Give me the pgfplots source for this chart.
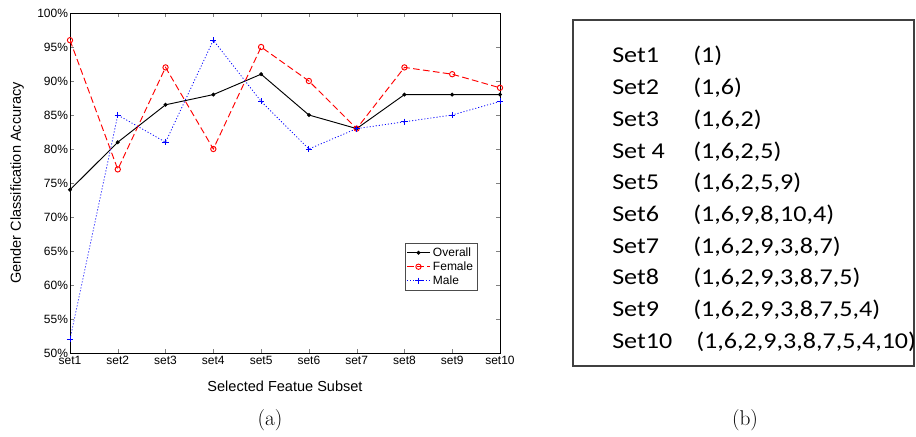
\documentclass[border=0pt]{standalone}
\usepackage{pgfplots}
\pgfplotsset{compat=1.18}
\usepackage{fontspec}
\newfontfamily\arial{Liberation Sans}
\newfontfamily\calib{Carlito}
\newcommand{\rt}[1]{\scalebox{1.15}[1]{\calib\fontsize{17}{19}\selectfont #1}}
\begin{document}
\begin{tikzpicture}
\path[use as bounding box] (0,0) rectangle (687pt,327pt);
\begin{axis}[
  at={(52.5pt,62.25pt)}, anchor=south west,
  scale only axis, width=322.5pt, height=255pt,
  xmin=1, xmax=10, ymin=50, ymax=100,
  xtick={1,...,10},
  xticklabels={set1,set2,set3,set4,set5,set6,set7,set8,set9,set10},
  ytick={50,55,...,100},
  yticklabel={\pgfmathprintnumber{\tick}\%},
  /pgf/number format/assume math mode=true,
  tick align=inside, major tick length=3pt,
  ticklabel style={font=\arial\fontsize{9}{10}\selectfont},
  yticklabel style={xshift=2pt},
  xticklabel style={yshift=1pt},
  axis line style={line width=0.6pt},
  label style={font=\arial\fontsize{10.9}{12}\selectfont},
  xlabel={Selected Featue Subset},
  ylabel={Gender Classification Accuracy},
  xlabel style={at={(axis description cs:0.5,-0.097)}, anchor=center},
  ylabel style={at={(axis description cs:-0.123,0.5)}, anchor=center},
  legend style={at={(axis description cs:0.779,0.3235)}, anchor=north west,
    font=\arial\fontsize{9}{10}\selectfont, inner sep=1pt, row sep=-1.5pt,
    draw=black!70, line width=0.5pt},
  legend cell align=left,
]
\addplot[black, line width=0.7pt, mark=*, mark size=1.1pt] coordinates {
 (1,74) (2,81) (3,86.5) (4,88) (5,91) (6,85) (7,83) (8,88) (9,88) (10,88)};
\addlegendentry{Overall}
\addplot[red, line width=0.7pt, dash pattern=on 5pt off 2.5pt, mark=o, mark size=2pt, mark options={solid}] coordinates {
 (1,96) (2,77) (3,92) (4,80) (5,95) (6,90) (7,83) (8,92) (9,91) (10,89)};
\addlegendentry{Female}
\addplot[blue, line width=0.6pt, dash pattern=on 0.8pt off 1.5pt, mark=+, mark size=2.3pt, mark options={solid}] coordinates {
 (1,52) (2,85) (3,81) (4,96) (5,87) (6,80) (7,83) (8,84) (9,85) (10,87)};
\addlegendentry{Male}
\end{axis}
\begin{scope}[x=0.75pt, y=-0.75pt, shift={(0,327pt)}]
\draw[black!75, line width=0.8pt] (573,20) rectangle (914,366);
\foreach \s/\p [count=\k from 0] in {
  Set1/(1), Set2/{(1,6)}, Set3/{(1,6,2)}, Set 4/{(1,6,2,5)},
  Set5/{(1,6,2,5,9)}, Set6/{(1,6,9,8,10,4)}, Set7/{(1,6,2,9,3,8,7)},
  Set8/{(1,6,2,9,3,8,7,5)}, Set9/{(1,6,2,9,3,8,7,5,4)}} {
  \node[anchor=base west, inner sep=0pt] at (612, 63+31.7*\k) {\rt{\s}};
  \node[anchor=base west, inner sep=0pt] at (693, 63+31.7*\k) {\rt{\p}};
}
\node[anchor=base west, inner sep=0pt] at (612, 63+31.7*9) {\rt{Set10}};
\node[anchor=base west, inner sep=0pt] at (696, 63+31.7*9) {\rt{(1,6,2,9,3,8,7,5,4,10)}};
\node[inner sep=0pt] at (270,420) {\fontsize{16}{19}\selectfont (a)};
\node[inner sep=0pt] at (745,420) {\fontsize{16}{19}\selectfont (b)};
\end{scope}
\end{tikzpicture}
\end{document}
